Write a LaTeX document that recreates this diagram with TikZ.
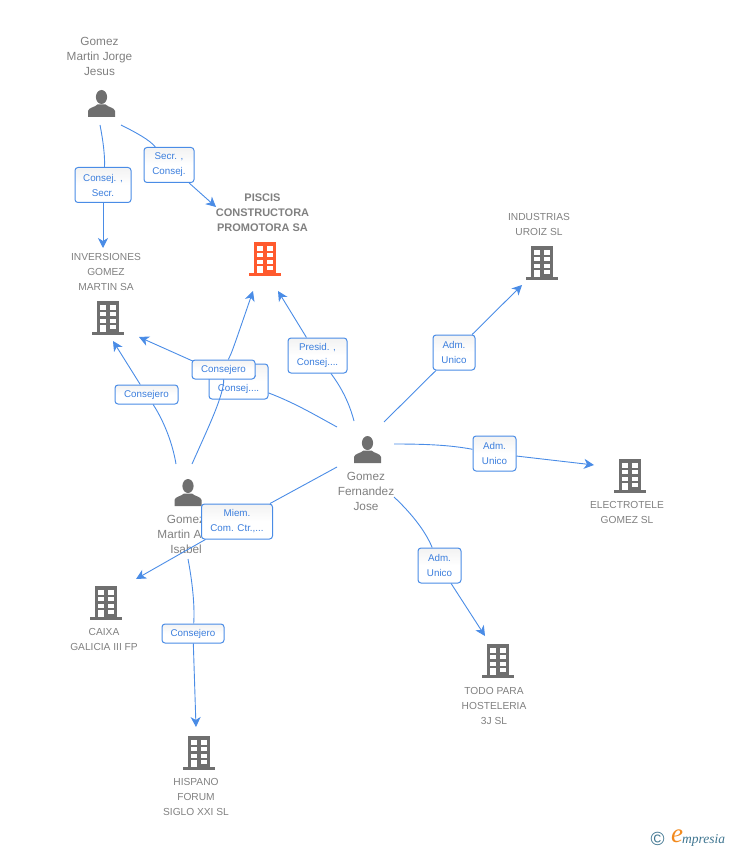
\documentclass[tikz,border=0pt]{standalone}
\usepackage{fontspec}
\setmainfont{Liberation Sans}
\newfontfamily\logofont{Liberation Serif}
\usetikzlibrary{arrows.meta}
\definecolor{linkblue}{HTML}{4A8CE6}
\definecolor{textblue}{HTML}{3B7EDD}
\definecolor{iconred}{HTML}{FF5A2E}
\definecolor{icongray}{HTML}{6F6F6F}
\definecolor{namegray}{HTML}{808080}
\definecolor{logoteal}{HTML}{3F7590}
\definecolor{logoorange}{HTML}{F28A1E}
\tikzset{
	link/.style={draw=linkblue,line width=0.9pt},
	arrowlink/.style={link,-{Stealth[length=10pt,width=10pt,inset=3pt]}},
	rolebox/.style={draw=linkblue,line width=1pt,rounded corners=3pt,top color=black!5,bottom color=white,middle color=white,text=textblue,inner sep=0pt,align=center,minimum height=35pt,font=\fontsize{9.8}{15}\selectfont},
	onerole/.style={rolebox,minimum height=19pt},
	whoname/.style={text=namegray,align=center,inner sep=0pt,font=\fontsize{10.2}{15}\selectfont},
	personname/.style={whoname,font=\fontsize{11.8}{15}\selectfont},
	mainlabel/.style={text=namegray,align=center,inner sep=0pt,font=\fontsize{11}{15}\selectfont\bfseries},
	pics/building/.style={code={
		\fill[#1] (-11,-17) rectangle (11,15);
		\fill[#1] (-16,14) rectangle (16,17);
		\foreach \r in {-12.7,-6,0.7}
		{
			\fill[white] (-7.7,\r) rectangle (-2.3,\r+4.3);
			\fill[white] (2.3,\r) rectangle (7.7,\r+4.3);
		}
		\fill[white] (-7.7,7) rectangle (-2.3,14);
		\fill[white] (2.3,7) rectangle (7.7,11.3);
	}},
	pics/person/.style={code={
		\fill[icongray] (0,-6.5) ellipse (5.6 and 7);
		\fill[icongray] (-13.5,13.5) -- (-13.5,7.5) .. controls (-13,4) and (-7,4) .. (-4,1) -- (4,1) .. controls (7,4) and (13,4) .. (13.5,7.5) -- (13.5,13.5) -- cycle;
	}}
}
\begin{document}
\begin{tikzpicture}[x=1pt,y=-1pt]
	\useasboundingbox (0,0) rectangle (728,850);
	% icons
	\pic at (101.5,103.5) {person};
	\pic at (188,492.5) {person};
	\pic at (367.5,449.5) {person};
	\pic at (265,259) {building=iconred};
	\pic at (108,318) {building=icongray};
	\pic at (542,263) {building=icongray};
	\pic at (630,476) {building=icongray};
	\pic at (498,661) {building=icongray};
	\pic at (106,603) {building=icongray};
	\pic at (199,753) {building=icongray};
	% names
	\node[personname] (jorge) at (99.5,56) {Gomez\\Martin Jorge\\Jesus};
	\node[mainlabel] (piscis) at (262.5,212.5) {PISCIS\\CONSTRUCTORA\\PROMOTORA SA};
	\node[whoname] (inversiones) at (106,272) {INVERSIONES\\GOMEZ\\MARTIN SA};
	\node[whoname] (industrias) at (539,224.5) {INDUSTRIAS\\UROIZ SL};
	\node[personname] (isabel) at (186,534.5) {Gomez\\Martin Ana\\Isabel};
	\node[personname] (jose) at (366,491.5) {Gomez\\Fernandez\\Jose};
	\node[whoname] (electrotele) at (627,512.5) {ELECTROTELE\\GOMEZ SL};
	\node[whoname] (todo) at (494,706) {TODO PARA\\HOSTELERIA\\3J SL};
	\node[whoname] (caixa) at (104,639.5) {CAIXA\\GALICIA III FP};
	\node[whoname] (hispano) at (196,797) {HISPANO\\FORUM\\SIGLO XXI SL};
	% free ends of the connectors
	\coordinate (jorgeA) at (100,125);
	\coordinate (jorgeB) at (121,125);
	\coordinate (isabelA) at (176,464);
	\coordinate (isabelB) at (192,464);
	\coordinate (isabelC) at (188,559);
	\coordinate (joseA) at (337,427);
	\coordinate (joseB) at (354,421);
	\coordinate (joseC) at (384,422);
	\coordinate (joseD) at (394,444);
	\coordinate (joseE) at (394,497);
	\coordinate (joseF) at (337,467);
	\coordinate (tipInvA) at (103,248);
	\coordinate (tipInvB) at (139,337);
	\coordinate (tipInvC) at (113,341);
	\coordinate (tipPisA) at (216,207);
	\coordinate (tipPisB) at (253,291);
	\coordinate (tipPisC) at (278,291);
	\coordinate (tipInd) at (522,285);
	\coordinate (tipEle) at (594,465);
	\coordinate (tipTodo) at (485,636);
	\coordinate (tipCaixa) at (136,579);
	\coordinate (tipHisp) at (196,727);
	% Jorge
	\node[rolebox,minimum width=56pt] (consA) at (103,185) {Consej. ,\\Secr.};
	\draw[link] (jorgeA) .. controls (104,145) and (105,160) .. (consA);
	\draw[arrowlink] (consA) -- (tipInvA);
	\node[rolebox,minimum width=50pt] (secA) at (169,165) {Secr. ,\\Consej.};
	\draw[link] (jorgeB) .. controls (135,132) and (150,140) .. (secA);
	\draw[arrowlink] (secA) -- (tipPisA);
	% Jose
	\node[rolebox,minimum width=59pt] (consB) at (238.5,381.5) {\phantom{Presid.} ,\\Consej....};
	\draw[link] (joseA) .. controls (315,415) and (295,403) .. (consB);
	\draw[arrowlink] (consB) -- (tipInvB);
	\node[rolebox,minimum width=59pt] (presA) at (317.5,355.5) {Presid. ,\\Consej....};
	\draw[link] (joseB) .. controls (349,402) and (341,387) .. (presA);
	\draw[arrowlink] (presA) -- (tipPisC);
	\node[rolebox,minimum width=42pt] (admA) at (454,352.5) {Adm.\\Unico};
	\draw[link] (joseC) -- (admA);
	\draw[arrowlink] (admA) -- (tipInd);
	\node[rolebox,minimum width=43pt] (admB) at (494.5,453.5) {Adm.\\Unico};
	\draw[link] (joseD) .. controls (425,444) and (450,445) .. (admB);
	\draw[arrowlink] (admB) -- (tipEle);
	\node[rolebox,minimum width=43pt] (admC) at (439.5,565.5) {Adm.\\Unico};
	\draw[link] (joseE) .. controls (410,512) and (425,530) .. (admC);
	\draw[arrowlink] (admC) -- (tipTodo);
	\node[rolebox,minimum width=71pt] (miemA) at (237,521.5) {Miem.\\Com. Ctr.,...};
	\draw[link] (joseF) -- (miemA);
	\draw[arrowlink] (miemA) -- (tipCaixa);
	% Isabel
	\node[onerole,minimum width=63pt] (conseroB) at (146.5,394.5) {Consejero};
	\draw[link] (isabelA) .. controls (172,440) and (162,418) .. (conseroB);
	\draw[arrowlink] (conseroB) -- (tipInvC);
	\node[onerole,minimum width=63pt] (conseroA) at (223.5,369.5) {Consejero};
	\draw[link] (isabelB) .. controls (208,428) and (224,395) .. (conseroA);
	\draw[arrowlink] (conseroA) .. controls (232,352) .. (tipPisB);
	\node[onerole,minimum width=62pt] (conseroC) at (193,633.5) {Consejero};
	\draw[link] (isabelC) .. controls (192,580) and (195,605) .. (conseroC);
	\draw[arrowlink] (conseroC) -- (tipHisp);
	% logo
	\node[text=logoteal,inner sep=0pt,font=\fontsize{19}{19}\selectfont] (copyright) at (657.5,839) {©};
	\node[text=logoorange,inner sep=0pt,font=\logofont\itshape\fontsize{27}{27}\selectfont] (logoe) at (677,836) {e};
	\node[text=logoteal,inner sep=0pt,anchor=west,font=\logofont\itshape\fontsize{13.5}{13.5}\selectfont] (logotext) at (682,840) {mpresia};
\end{tikzpicture}
\end{document}
